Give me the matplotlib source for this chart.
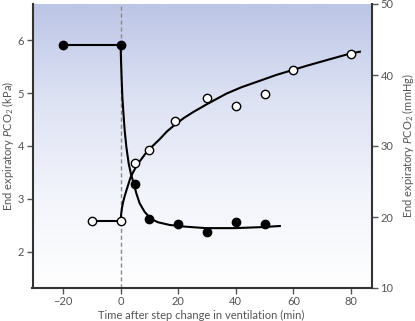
import numpy as np
import matplotlib
matplotlib.use("Agg")
import matplotlib.pyplot as plt
from matplotlib.colors import LinearSegmentedColormap

# ---- data ----
filled_t = [-20, 0, 5, 10, 20, 30, 40, 50]
filled_kpa = [5.9, 5.9, 3.28, 2.63, 2.52, 2.38, 2.56, 2.52]
open_t = [-10, 0, 5, 10, 19, 30, 40, 50, 60, 80]
open_kpa = [2.58, 2.58, 3.67, 3.92, 4.47, 4.90, 4.76, 4.99, 5.43, 5.74]

# baseline segments
fill_base_t = [-20, 0]
fill_base_kpa = [5.9, 5.9]
open_base_t = [-10, 0]
open_base_kpa = [2.58, 2.58]

# fitted curves
decay_t = [0, 0.15, 0.3, 0.6, 1.0, 1.4, 2.0, 2.8, 3.6, 4.5, 5.5, 6.6, 8.3,
           10.4, 13, 17, 22, 29.6, 39.7, 49.5, 55.3]
decay_kpa = [5.9, 5.6, 5.35, 4.93, 4.6, 4.30, 3.98, 3.67, 3.47, 3.30, 3.10,
             2.92, 2.76, 2.63, 2.56, 2.51, 2.48, 2.45, 2.45, 2.47, 2.49]
rise_t = [0, 0.2, 0.5, 0.9, 1.4, 2.0, 2.7, 3.4, 4.3, 5.3, 6.5, 8.0, 9.5,
          11.5, 13.6, 16, 18.8, 22, 25.2, 30, 36.8, 42, 48.3, 54, 59.5, 65,
          71.5, 79.4, 83.1]
rise_kpa = [2.58, 2.72, 2.84, 2.95, 3.05, 3.16, 3.28, 3.40, 3.50, 3.60, 3.70,
            3.81, 3.92, 4.02, 4.13, 4.27, 4.40, 4.53, 4.64, 4.79, 4.99, 5.11,
            5.23, 5.34, 5.43, 5.52, 5.62, 5.74, 5.78]

xticks = [-20, 0, 20, 40, 60, 80]
xticklabels = ['\u221220', '0', '20', '40', '60', '80']
yticks_kpa = [2, 3, 4, 5, 6]
yticks_mmhg = [10, 20, 30, 40, 50]

plt.rcParams['font.family'] = ['Lato', 'DejaVu Sans']
plt.rcParams['mathtext.fontset'] = 'custom'
plt.rcParams['mathtext.rm'] = 'Lato'
plt.rcParams['mathtext.it'] = 'Lato:italic'

txt = '#555555'
fs = 8
fig = plt.figure(figsize=(4.15, 3.21), dpi=100)
ax = fig.add_axes([32.5/415, 1-288/321, (372-32.5)/415, (288-4)/321])

xlim = (-30.6, 87.3)
ylim = (1.32, 6.68)
ax.set_xlim(*xlim)
ax.set_ylim(*ylim)

# gradient background
cmap = LinearSegmentedColormap.from_list('g', ['#ffffff', '#f2f4fb', '#dde2f3', '#bcc5e6'])
grad = np.linspace(0, 1, 256).reshape(-1, 1)
ax.imshow(grad, aspect='auto', cmap=cmap, origin='lower',
          extent=[xlim[0], xlim[1], ylim[0], ylim[1]], zorder=0)

ax.axvline(0, color='#8a8a8a', lw=1.0, ls=(0, (3, 2)), zorder=1)

ax.plot(decay_t, decay_kpa, color='black', lw=1.5, zorder=2)
ax.plot(rise_t, rise_kpa, color='black', lw=1.5, zorder=2)
ax.plot(fill_base_t, fill_base_kpa, color='black', lw=1.5, zorder=2)
ax.plot(open_base_t, open_base_kpa, color='black', lw=1.5, zorder=2)

ax.plot(filled_t, filled_kpa, 'o', ms=6, mfc='black', mec='black', zorder=3)
ax.plot(open_t, open_kpa, 'o', ms=6, mfc='white', mec='black', mew=1.0, zorder=3)

ax.spines['top'].set_visible(False)
ax.spines['right'].set_visible(False)
ax.spines['left'].set_color('#333333')
ax.spines['bottom'].set_color('#333333')
ax.spines['left'].set_linewidth(1.5)
ax.spines['bottom'].set_linewidth(1.5)

ax.set_xticks(xticks)
ax.set_xticklabels(xticklabels)
ax.set_yticks(yticks_kpa)
ax.tick_params(axis='both', direction='out', length=4, width=1, colors='#555555',
               labelsize=fs, labelcolor=txt, pad=2)
ax.set_xlabel('Time after step change in ventilation (min)', fontsize=fs, color=txt)
ax.xaxis.set_label_coords(0.498, -0.078)
ax.set_ylabel(r'End expiratory $\mathit{P}$CO$_2$ (kPa)', fontsize=fs, color=txt,
              va='center')
ax.yaxis.set_label_coords(-0.072, 0.5)

ax2 = ax.twinx()
ax2.set_ylim(10, 50)
ax2.set_yticks(yticks_mmhg)
for s in ['top', 'left', 'bottom']:
    ax2.spines[s].set_visible(False)
ax2.spines['right'].set_color('#333333')
ax2.spines['right'].set_linewidth(1.5)
ax2.tick_params(axis='y', direction='out', length=4, width=1, colors='#555555',
                labelsize=fs, labelcolor=txt, pad=2)
ax2.set_ylabel(r'End expiratory $\mathit{P}$CO$_2$ (mmHg)', fontsize=fs, color=txt,
               va='center')
ax2.yaxis.set_label_coords(1.106, 0.5)

fig.savefig('out.png', dpi=100)
